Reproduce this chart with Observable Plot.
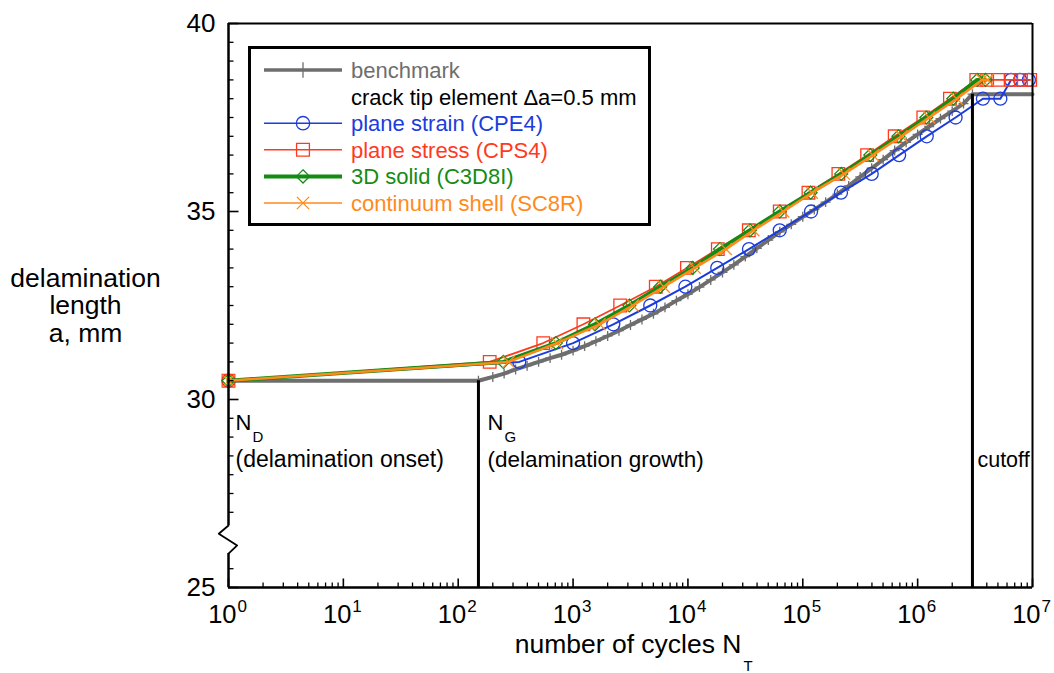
<!DOCTYPE html>
<html><head><meta charset="utf-8">
<script src="https://cdn.jsdelivr.net/npm/d3@7"></script>
<script src="https://cdn.jsdelivr.net/npm/@observablehq/plot@0.6"></script>
<style>
body{margin:0;background:#fff;}
#chart{position:relative;width:1054px;height:673px;font-family:"Liberation Sans",Arial,Helvetica,sans-serif;}
#legend{position:absolute;left:0;top:0;pointer-events:none;}
</style></head><body><div id="chart"></div>
<script>
// ---------------- data ----------------
const benchN = [1, 150, 200, 251, 316, 398, 501, 631, 794,
  1000, 1260, 1580, 2000, 2510, 3160, 3980, 5010, 6310, 7940,
  1.0e4, 1.26e4, 1.58e4, 2.0e4, 2.51e4, 3.16e4, 3.98e4, 5.01e4, 6.31e4, 7.94e4,
  1.0e5, 1.26e5, 1.58e5, 2.0e5, 2.51e5, 3.16e5, 3.98e5, 5.01e5, 6.31e5, 7.94e5,
  1.0e6, 1.26e6, 1.58e6, 2.0e6, 2.51e6, 3.0e6, 1.0e7];
const benchA = [30.5, 30.5, 30.6, 30.69, 30.8, 30.9, 31.0, 31.1, 31.19,
  31.3, 31.42, 31.55, 31.69, 31.83, 31.98, 32.13, 32.28, 32.45, 32.63,
  32.8, 32.99, 33.18, 33.38, 33.58, 33.8, 34.02, 34.24, 34.46, 34.66,
  34.86, 35.05, 35.25, 35.46, 35.68, 35.92, 36.15, 36.38, 36.62, 36.84,
  37.05, 37.26, 37.47, 37.67, 37.87, 38.12, 38.12];

const cpe4N = [1, 340, 1000, 2240, 4700, 9500, 1.8e4, 3.4e4, 6.3e4, 1.18e5, 2.15e5,
  3.98e5, 6.9e5, 1.2e6, 2.14e6, 3.7e6, 5.25e6, 6.5e6, 7.8e6, 9.3e6];
const cpe4A = [30.5, 31.0, 31.5, 32.0, 32.5, 33.0, 33.5, 34.0, 34.5, 35.0, 35.5,
  36.0, 36.5, 37.0, 37.5, 38.0, 38.0, 38.5, 38.5, 38.5];

const cps4N = [1, 188, 550, 1230, 2570, 5250, 9800, 1.82e4, 3.39e4, 6.3e4, 1.12e5, 2.04e5,
  3.63e5, 6.31e5, 1.12e6, 1.91e6, 3.24e6, 4.03e6, 5.01e6, 6.53e6, 7.94e6, 9.55e6];
const cps4A = [30.5, 31.0, 31.5, 32.0, 32.5, 33.0, 33.5, 34.0, 34.5, 35.0, 35.5, 36.0,
  36.5, 37.0, 37.5, 38.0, 38.5, 38.5, 38.5, 38.5, 38.5, 38.5];

const c3d8iN = [1, 247, 708, 1550, 3090, 5750, 1.1e4, 1.9e4, 3.47e4, 6.3e4, 1.17e5, 2.16e5,
  3.87e5, 6.8e5, 1.19e6, 2.04e6, 3.3e6, 3.9e6];
const c3d8iA = [30.5, 31.0, 31.5, 32.0, 32.5, 33.0, 33.5, 34.0, 34.5, 35.0, 35.5, 36.0,
  36.5, 37.0, 37.5, 38.0, 38.5, 38.5];

const sc8rN = [1, 275, 724, 1700, 3310, 6170, 1.15e4, 2.14e4, 3.72e4, 6.76e4, 1.2e5, 2.29e5,
  4.07e5, 7.24e5, 1.26e6, 2.19e6, 3.63e6, 4.07e6];
const sc8rA = [30.5, 31.0, 31.5, 32.0, 32.5, 33.0, 33.5, 34.0, 34.5, 35.0, 35.5, 36.0,
  36.5, 37.0, 37.5, 38.0, 38.5, 38.5];

const onsetN = 1, growthN = 150, cutoffN = 3.0e6, cutoffA = 38.12, growthA = 30.5;
const xDecades = [0, 1, 2, 3, 4, 5, 6, 7];
const xMinorMult = [2, 3, 4, 5, 6, 7, 8, 9];
const yMajor = [25, 30, 35, 40];
const yMinorStep = 0.5;
const yBreak = [26.0, 26.5];           // minor ticks hidden by the axis break
const breakZigzag = [[1, 26.65], [0.823, 26.43], [1.19, 26.12], [1, 25.9]];

const legendItems = [
  {label: "benchmark", color: "#6e6e6e", width: 3.5, symbol: "plus"},
  {label: "crack tip element \u0394a=0.5 mm", color: "#000", width: 0, symbol: null},
  {label: "plane strain (CPE4)", color: "#1c3cdc", width: 1.6, symbol: "circle"},
  {label: "plane stress (CPS4)", color: "#ff3a1e", width: 1.6, symbol: "square"},
  {label: "3D solid (C3D8I)", color: "#148c14", width: 4, symbol: "diamond"},
  {label: "continuum shell (SC8R)", color: "#ff8a1c", width: 1.6, symbol: "times"}
];

// ---------------- build ----------------
const zip = (N, A) => N.map((n, i) => ({n, a: A[i]}));
const bench = zip(benchN, benchA), cpe4 = zip(cpe4N, cpe4A), cps4 = zip(cps4N, cps4A),
      c3d8i = zip(c3d8iN, c3d8iA), sc8r = zip(sc8rN, sc8rA);
const benchMarks = bench.filter(d => d.n >= growthN && d.n <= cutoffN);

const xMajorTicks = xDecades.map(d => 10 ** d);
const xMinorTicks = xDecades.slice(0, -1).flatMap(d => xMinorMult.map(m => m * 10 ** d));
const yAll = d3.range(25, 40 + 1e-9, yMinorStep);
const yMinorTicks = yAll.filter(v => !yMajor.includes(v) && !yBreak.includes(v));

const tickUp = len => ({draw(ctx) { ctx.moveTo(0, 0); ctx.lineTo(0, -len); }});
const tickRight = len => ({draw(ctx) { ctx.moveTo(0, 0); ctx.lineTo(len, 0); }});

const FONT = "Liberation Sans, Arial, Helvetica, sans-serif";
const [gray, , blue, red, green, orange] = legendItems.map(d => d.color);

const chart = Plot.plot({
  width: 1054, height: 673,
  marginLeft: 228, marginRight: 22, marginTop: 23, marginBottom: 86,
  style: {fontFamily: FONT, background: "white", overflow: "visible", color: "black"},
  x: {type: "log", domain: [1, 1e7], axis: null},
  y: {domain: [25, 40], axis: null},
  marks: [
    // benchmark
    Plot.line(bench, {x: "n", y: "a", stroke: gray, strokeWidth: 4}),
    Plot.dot(benchMarks, {x: "n", y: "a", symbol: "plus", r: 3.3, stroke: gray, strokeWidth: 1.3, fill: "none"}),
    // plane strain
    Plot.line(cpe4, {x: "n", y: "a", stroke: blue, strokeWidth: 2}),
    Plot.dot(cpe4, {x: "n", y: "a", symbol: "circle", r: 6.5, stroke: blue, strokeWidth: 1.3, fill: "none"}),
    // plane stress
    Plot.line(cps4, {x: "n", y: "a", stroke: red, strokeWidth: 1.7}),
    Plot.dot(cps4, {x: "n", y: "a", symbol: "square2", r: 8, stroke: red, strokeWidth: 1.3, fill: "none"}),
    // 3D solid
    Plot.line(c3d8i, {x: "n", y: "a", stroke: green, strokeWidth: 4}),
    Plot.dot(c3d8i, {x: "n", y: "a", symbol: "diamond2", r: 5.8, stroke: green, strokeWidth: 1.3, fill: "none"}),
    // continuum shell
    Plot.line(sc8r, {x: "n", y: "a", stroke: orange, strokeWidth: 2.5}),
    Plot.dot(sc8r, {x: "n", y: "a", symbol: "times", r: 5.5, stroke: orange, strokeWidth: 1.3, fill: "none"}),
    // vertical markers N_G and cutoff
    Plot.ruleX([growthN], {y1: 25, y2: growthA, stroke: "black", strokeWidth: 3}),
    Plot.ruleX([cutoffN], {y1: 25, y2: cutoffA, stroke: "black", strokeWidth: 3}),
    // frame
    Plot.ruleY([40], {stroke: "black", strokeWidth: 2}),
    Plot.ruleX([1e7], {stroke: "black", strokeWidth: 2}),
    Plot.ruleY([25], {stroke: "black", strokeWidth: 2.5}),
    Plot.ruleX([1], {y1: 25, y2: breakZigzag[3][1], stroke: "black", strokeWidth: 2.5}),
    Plot.ruleX([1], {y1: breakZigzag[0][1], y2: 40, stroke: "black", strokeWidth: 2.5}),
    Plot.line(breakZigzag, {x: d => d[0], y: d => d[1], stroke: "black", strokeWidth: 1.8}),
    // ticks (inward)
    Plot.dot(xMajorTicks, {x: d => d, y: 25, symbol: tickUp(9), stroke: "black", strokeWidth: 1.6, fill: "none"}),
    Plot.dot(xMinorTicks, {x: d => d, y: 25, symbol: tickUp(5), stroke: "black", strokeWidth: 1.3, fill: "none"}),
    Plot.dot(yMajor, {x: 1, y: d => d, symbol: tickRight(10), stroke: "black", strokeWidth: 1.6, fill: "none"}),
    Plot.dot(yMinorTicks, {x: 1, y: d => d, symbol: tickRight(5), stroke: "black", strokeWidth: 1.3, fill: "none"}),
    // tick labels
    Plot.text(xDecades, {x: d => 10 ** d, y: 25, text: () => "10", dx: 8, dy: 35, textAnchor: "end", lineAnchor: "bottom", fontSize: 25.5, fill: "black"}),
    Plot.text(xDecades, {x: d => 10 ** d, y: 25, text: d => String(d), dx: 9, dy: 24, textAnchor: "start", lineAnchor: "bottom", fontSize: 17, fill: "black"}),
    Plot.text(yMajor, {x: 1, y: d => d, text: d => String(d), dx: -13, textAnchor: "end", lineAnchor: "middle", fontSize: 26, fill: "black"}),
    // axis titles
    Plot.text(["number of cycles N"], {frameAnchor: "bottom", dx: 111, dy: 65, textAnchor: "end", lineAnchor: "bottom", fontSize: 26.5, fill: "black"}),
    Plot.text(["T"], {frameAnchor: "bottom", dx: 113, dy: 83, textAnchor: "start", lineAnchor: "bottom", fontSize: 15, fill: "black"}),
    Plot.text(["delamination\nlength\na, mm"], {x: 1, y: 32.5, dx: -143, textAnchor: "middle", lineAnchor: "middle", lineHeight: 1.04, fontSize: 26.5, fill: "black"}),
    // annotations
    Plot.text(["N"], {x: onsetN, y: 29.18, dx: 7, textAnchor: "start", lineAnchor: "bottom", fontSize: 22, fill: "black"}),
    Plot.text(["D"], {x: onsetN, y: 29.18, dx: 24, dy: 12, textAnchor: "start", lineAnchor: "bottom", fontSize: 15, fill: "black"}),
    Plot.text(["(delamination onset)"], {x: onsetN, y: 29.18, dx: 7, dy: 37, textAnchor: "start", lineAnchor: "bottom", fontSize: 23, fill: "black"}),
    Plot.text(["N"], {x: growthN, y: 29.18, dx: 9, textAnchor: "start", lineAnchor: "bottom", fontSize: 22, fill: "black"}),
    Plot.text(["G"], {x: growthN, y: 29.18, dx: 26, dy: 12, textAnchor: "start", lineAnchor: "bottom", fontSize: 15, fill: "black"}),
    Plot.text(["(delamination growth)"], {x: growthN, y: 29.18, dx: 9, dy: 37, textAnchor: "start", lineAnchor: "bottom", fontSize: 22.5, fill: "black"}),
    Plot.text(["cutoff"], {x: cutoffN, y: 29.18, dx: 5, dy: 37, textAnchor: "start", lineAnchor: "bottom", fontSize: 21.5, fill: "black"})
  ]
});
const host = document.getElementById("chart");
host.appendChild(chart);

// ---------------- legend overlay ----------------
const lg = d3.select(host).append("svg").attr("id", "legend").attr("width", 1054).attr("height", 673)
  .style("font-family", FONT);
lg.append("rect").attr("x", 249.5).attr("y", 47.5).attr("width", 400).attr("height", 177)
  .attr("fill", "white").attr("stroke", "black").attr("stroke-width", 3);
const symMap = {plus: [d3.symbolPlus, 80], circle: [d3.symbolCircle, 140], square: [d3.symbolSquare2, 210], diamond: [d3.symbolDiamond2, 110], times: [d3.symbolTimes, 100]};
legendItems.forEach((it, i) => {
  const y = 70 + i * 26.6;
  if (it.width > 0) {
    lg.append("line").attr("x1", 264).attr("x2", 342).attr("y1", y).attr("y2", y)
      .attr("stroke", it.color).attr("stroke-width", it.width);
  }
  if (it.symbol) {
    const [s, size] = symMap[it.symbol];
    lg.append("path").attr("d", d3.symbol(s, size)()).attr("transform", `translate(303,${y})`)
      .attr("fill", "none").attr("stroke", it.color).attr("stroke-width", 1.3);
  }
  lg.append("text").attr("x", 351).attr("y", y).attr("dy", "0.36em").attr("font-size", 22)
    .attr("fill", it.color).text(it.label);
});
</script></body></html>
